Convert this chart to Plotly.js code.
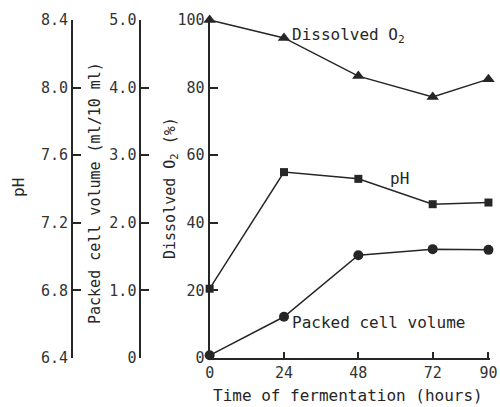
<!DOCTYPE html>
<html>
<head>
<meta charset="utf-8">
<script src="https://cdn.plot.ly/plotly-3.0.1.min.js"></script>
<style>html,body{margin:0;padding:0;background:#fff}#chart{width:500px;height:407px}</style>
</head>
<body>
<div id="chart"></div>
<script>
// Data
const hours = [0, 24, 48, 72, 90];
const dissolvedO2 = [100, 94.7, 83.4, 77.2, 82.5];      // %
const pH = [6.81, 7.50, 7.46, 7.31, 7.32];               // pH units
const packedCellVolume = [0.04, 0.61, 1.52, 1.61, 1.60]; // ml/10 ml
const xTicks = [0, 24, 48, 72, 90];
const o2Ticks = [0, 20, 40, 60, 80, 100];
const pcvTicks = [0, 1, 2, 3, 4, 5];
const pcvTickText = ['0', '1.0', '2.0', '3.0', '4.0', '5.0'];
const pHTicks = [6.4, 6.8, 7.2, 7.6, 8.0, 8.4];

const ink = '#262626';
const mono = 'DejaVu Sans Mono, Liberation Mono, monospace';

const traces = [
  {x: hours, y: dissolvedO2, yaxis: 'y', type: 'scatter', mode: 'lines+markers',
   line: {color: ink, width: 1.5}, marker: {symbol: 'triangle-up', size: 11, color: ink}, cliponaxis: false},
  {x: hours, y: pH, yaxis: 'y3', type: 'scatter', mode: 'lines+markers',
   line: {color: ink, width: 1.5}, marker: {symbol: 'square', size: 8, color: ink}, cliponaxis: false},
  {x: hours, y: packedCellVolume, yaxis: 'y2', type: 'scatter', mode: 'lines+markers',
   line: {color: ink, width: 1.5}, marker: {symbol: 'circle', size: 10, color: ink}, cliponaxis: false}
];

const axisCommon = {
  showgrid: false, zeroline: false, showline: true, linecolor: ink, linewidth: 2,
  ticks: 'inside', ticklen: 8, tickwidth: 2, tickcolor: ink,
  tickfont: {family: mono, size: 15, color: '#333'}
};

const layout = {
  width: 500, height: 407,
  margin: {l: 40, r: 10, t: 20, b: 49},
  paper_bgcolor: '#fff', plot_bgcolor: '#fff',
  showlegend: false,
  xaxis: Object.assign({}, axisCommon, {
    domain: [0.377, 1], range: [0, 90.5], tickvals: xTicks, ticklen: 6, anchor: 'y'
  }),
  yaxis: Object.assign({}, axisCommon, {
    range: [0, 100], tickvals: o2Ticks, anchor: 'x', side: 'left'
  }),
  yaxis2: Object.assign({}, axisCommon, {
    range: [0, 5], tickvals: pcvTicks, ticktext: pcvTickText,
    overlaying: 'y', anchor: 'free', position: 0.2232, side: 'left'
  }),
  yaxis3: Object.assign({}, axisCommon, {
    range: [6.4, 8.4], tickvals: pHTicks, tickformat: '.1f',
    overlaying: 'y', anchor: 'free', position: 0.0714, side: 'left'
  }),
  annotations: [
    {text: 'Dissolved O<sub>2</sub>', x: 26, y: 95.5, xref: 'x', yref: 'y', xanchor: 'left', yanchor: 'middle',
     showarrow: false, font: {family: mono, size: 16, color: ink}},
    {text: 'pH', x: 57.5, y: 53, xref: 'x', yref: 'y', xanchor: 'left', yanchor: 'middle',
     showarrow: false, font: {family: mono, size: 16, color: ink}},
    {text: 'Packed cell volume', x: 26, y: 10.5, xref: 'x', yref: 'y', xanchor: 'left', yanchor: 'middle',
     showarrow: false, font: {family: mono, size: 16, color: ink}},
    {text: 'Time of fermentation (hours)', x: 348, y: 396, xref: 'paper', yref: 'paper',
     showarrow: false, font: {family: mono, size: 16, color: ink}},
    {text: 'pH', x: 18, y: 188, textangle: -90, showarrow: false, font: {family: mono, size: 16, color: ink}},
    {text: 'Packed cell volume (ml/10 ml)', x: 95, y: 193, textangle: -90, showarrow: false, font: {family: mono, size: 15, color: ink}},
    {text: 'Dissolved O<sub>2</sub> (%)', x: 170, y: 188, textangle: -90, showarrow: false, font: {family: mono, size: 15, color: ink}}
  ]
};

// convert pixel positions of the outer title annotations into paper coords
const plotL = 40, plotW = 450, plotT = 20, plotH = 338;
layout.annotations.forEach(a => {
  if (a.xref === undefined || a.xref === 'paper') {
    a.xref = 'paper'; a.yref = 'paper';
    a.x = (a.x - plotL) / plotW; a.y = 1 - (a.y - plotT) / plotH;
    a.xanchor = 'center'; a.yanchor = 'middle';
  }
});

Plotly.newPlot('chart', traces, layout, {displayModeBar: false, staticPlot: true});
</script>
</body>
</html>
